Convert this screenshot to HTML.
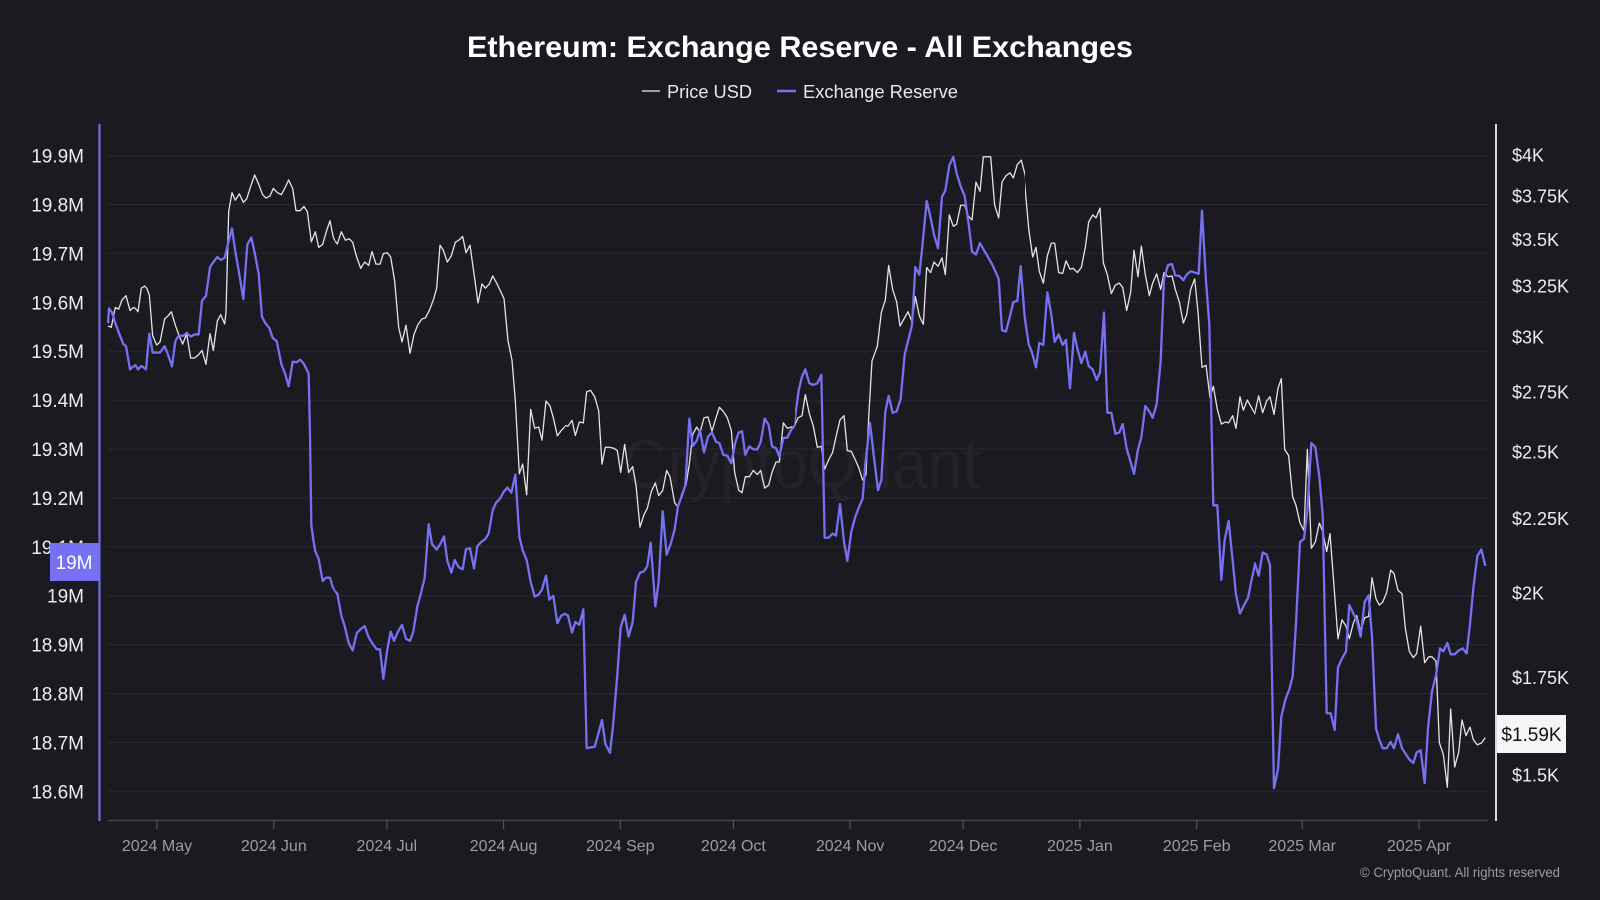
<!DOCTYPE html>
<html><head><meta charset="utf-8"><style>
html,body{margin:0;padding:0;background:#1b1a20;}
svg{display:block}
text{font-family:"Liberation Sans",sans-serif;}
</style></head><body>
<svg width="1600" height="900" viewBox="0 0 1600 900" xmlns="http://www.w3.org/2000/svg">
<defs>
<clipPath id="c7" clipPathUnits="userSpaceOnUse"><rect x="100" y="100" width="235" height="730"/></clipPath>
<clipPath id="c8" clipPathUnits="userSpaceOnUse"><rect x="335" y="100" width="230" height="730"/></clipPath>
<clipPath id="c9" clipPathUnits="userSpaceOnUse"><rect x="565" y="100" width="230" height="730"/></clipPath>
<clipPath id="c10" clipPathUnits="userSpaceOnUse"><rect x="795" y="100" width="230" height="730"/></clipPath>
<clipPath id="c11" clipPathUnits="userSpaceOnUse"><rect x="1025" y="100" width="230" height="730"/></clipPath>
<clipPath id="c12" clipPathUnits="userSpaceOnUse"><rect x="1255" y="100" width="235" height="730"/></clipPath>
</defs>
<rect width="1600" height="900" fill="#1b1a20"/>

<!-- title -->
<text x="800" y="57" text-anchor="middle" font-size="30" font-weight="bold" fill="#ffffff" textLength="666" lengthAdjust="spacingAndGlyphs">Ethereum: Exchange Reserve - All Exchanges</text>

<!-- legend -->
<line x1="642" y1="91" x2="660" y2="91" stroke="#a0a0a0" stroke-width="2"/>
<text x="667" y="98" font-size="18" fill="#e8e8e8" textLength="85" lengthAdjust="spacingAndGlyphs">Price USD</text>
<line x1="777" y1="91" x2="796" y2="91" stroke="#7670f2" stroke-width="2.5"/>
<text x="803" y="98" font-size="18" fill="#e8e8e8" textLength="155" lengthAdjust="spacingAndGlyphs">Exchange Reserve</text>

<!-- watermark -->
<text x="622" y="488" font-size="70" fill="#232229" textLength="358" lengthAdjust="spacingAndGlyphs">CryptoQuant</text>

<!-- gridlines -->
<g stroke="#2a2930" stroke-width="1">
<line x1="108" x2="1488" y1="155.6" y2="155.6"/>
<line x1="108" x2="1488" y1="204.5" y2="204.5"/>
<line x1="108" x2="1488" y1="253.4" y2="253.4"/>
<line x1="108" x2="1488" y1="302.3" y2="302.3"/>
<line x1="108" x2="1488" y1="351.2" y2="351.2"/>
<line x1="108" x2="1488" y1="400.1" y2="400.1"/>
<line x1="108" x2="1488" y1="449" y2="449"/>
<line x1="108" x2="1488" y1="497.9" y2="497.9"/>
<line x1="108" x2="1488" y1="546.8" y2="546.8"/>
<line x1="108" x2="1488" y1="595.7" y2="595.7"/>
<line x1="108" x2="1488" y1="644.6" y2="644.6"/>
<line x1="108" x2="1488" y1="693.5" y2="693.5"/>
<line x1="108" x2="1488" y1="742.4" y2="742.4"/>
<line x1="108" x2="1488" y1="791.3" y2="791.3"/>
</g>

<!-- bottom axis -->
<line x1="108" x2="1488" y1="820.5" y2="820.5" stroke="#45444c" stroke-width="1.5"/>
<g stroke="#55545c" stroke-width="1.2">
<line x1="157" x2="157" y1="820" y2="829"/>
<line x1="273.8" x2="273.8" y1="820" y2="829"/>
<line x1="386.8" x2="386.8" y1="820" y2="829"/>
<line x1="503.6" x2="503.6" y1="820" y2="829"/>
<line x1="620.3" x2="620.3" y1="820" y2="829"/>
<line x1="733.4" x2="733.4" y1="820" y2="829"/>
<line x1="850.1" x2="850.1" y1="820" y2="829"/>
<line x1="963.1" x2="963.1" y1="820" y2="829"/>
<line x1="1079.9" x2="1079.9" y1="820" y2="829"/>
<line x1="1196.7" x2="1196.7" y1="820" y2="829"/>
<line x1="1302.2" x2="1302.2" y1="820" y2="829"/>
<line x1="1419" x2="1419" y1="820" y2="829"/>
</g>
<g font-size="16" fill="#9c9ba3" text-anchor="middle">
<text x="157" y="851">2024 May</text>
<text x="273.8" y="851">2024 Jun</text>
<text x="386.8" y="851">2024 Jul</text>
<text x="503.6" y="851">2024 Aug</text>
<text x="620.3" y="851">2024 Sep</text>
<text x="733.4" y="851">2024 Oct</text>
<text x="850.1" y="851">2024 Nov</text>
<text x="963.1" y="851">2024 Dec</text>
<text x="1079.9" y="851">2025 Jan</text>
<text x="1196.7" y="851">2025 Feb</text>
<text x="1302.2" y="851">2025 Mar</text>
<text x="1419" y="851">2025 Apr</text>
</g>

<!-- left axis labels -->
<g font-size="19" fill="#ececec" text-anchor="end">
<text x="84" y="162.6">19.9M</text>
<text x="84" y="211.5">19.8M</text>
<text x="84" y="260.4">19.7M</text>
<text x="84" y="309.3">19.6M</text>
<text x="84" y="358.2">19.5M</text>
<text x="84" y="407.1">19.4M</text>
<text x="84" y="456">19.3M</text>
<text x="84" y="504.9">19.2M</text>
<text x="84" y="553.8">19.1M</text>
<text x="84" y="602.7">19M</text>
<text x="84" y="651.6">18.9M</text>
<text x="84" y="700.5">18.8M</text>
<text x="84" y="749.4">18.7M</text>
<text x="84" y="798.3">18.6M</text>
</g>

<!-- right axis labels (log scale) -->
<g font-size="18" fill="#ececec">
<text x="1512" y="161.5">$4K</text>
<text x="1512" y="202.3">$3.75K</text>
<text x="1512" y="245.9">$3.5K</text>
<text x="1512" y="292.7">$3.25K</text>
<text x="1512" y="343.3">$3K</text>
<text x="1512" y="398.5">$2.75K</text>
<text x="1512" y="458.5">$2.5K</text>
<text x="1512" y="525.1">$2.25K</text>
<text x="1512" y="599.5">$2K</text>
<text x="1512" y="683.8">$1.75K</text>
<text x="1512" y="781.3">$1.5K</text>
</g>

<!-- Price series (white) -->
<g fill="none" stroke="#e4e4e8" stroke-width="1.3" stroke-linejoin="round">
<g clip-path="url(#c7)"><g transform="translate(100,140) scale(0.333333,0.420875)"><polyline vector-effect="non-scaling-stroke" points="24,442 34,445 40,420 46,398 56,402 66,380 78,370 90,405 100,398 106,400 114,408 124,352 134,347 140,352 148,368 158,465 170,487 180,480 194,425 204,418 214,408 226,440 236,462 248,485 260,460 272,518 284,518 296,510 306,500 318,533 330,460 340,500 352,430 362,415 374,437 378,410 386,170 396,125 406,143 418,128 430,148 440,140 452,110 464,83 476,105 488,130 498,138 510,133 520,115 532,125 544,130 556,112 566,95 578,115 588,168 600,168 612,158 622,170 634,242 646,218 656,255 668,248 680,215 690,192 700,232 710,245 720,235 730,228"/></g></g>
<g clip-path="url(#c8)"><g transform="translate(330,140) scale(0.333333,0.420875)"><polyline vector-effect="non-scaling-stroke" points="0,190 10,235 22,247 34,218 46,238 58,235 68,243 80,278 92,305 104,290 116,298 126,265 138,295 150,295 160,270 172,268 182,278 194,335 206,445 216,480 228,440 240,507 252,462 264,438 276,425 286,423 298,405 310,380 320,352 330,250 340,262 352,290 364,275 376,243 388,237 398,229 408,268 420,250 432,318 444,387 456,342 466,352 478,342 488,323 500,340 512,360 522,377 534,477 546,523 556,620 568,793 578,770 590,843 602,640 614,685 626,682 636,713 648,620 660,632 670,660 682,703 694,690 706,680 716,682 720,678 730,680"/></g></g>
<g clip-path="url(#c9)"><g transform="translate(560,140) scale(0.333333,0.420875)"><polyline vector-effect="non-scaling-stroke" points="0,693 12,678 24,680 36,666 46,702 58,670 70,672 80,598 92,595 104,610 116,643 126,770 136,730 148,730 160,732 172,738 182,790 194,723 206,790 218,776 228,820 240,920 252,890 262,875 274,835 286,815 296,845 308,833 320,785 330,800 344,862 354,872 366,840 378,820 388,770 398,700 410,682 420,695 432,660 444,658 456,692 466,665 478,635 490,645 502,660 514,690 524,790 536,832 546,838 556,800 568,800 580,785 592,795 602,785 614,827 626,820 636,790 648,765 658,765 670,672 682,685 694,682 706,682 716,662 720,665 730,662"/></g></g>
<g clip-path="url(#c10)"><g transform="translate(790,140) scale(0.333333,0.420875)"><polyline vector-effect="non-scaling-stroke" points="0,682 12,682 24,660 36,655 46,605 58,650 70,680 82,730 94,728 104,782 116,760 128,742 138,705 150,665 162,655 172,738 184,740 196,760 206,778 218,808 228,795 236,660 246,525 262,490 274,410 286,380 296,298 308,355 320,385 330,442 342,425 354,408 366,432 376,372 388,418 400,438 410,303 422,315 432,290 444,300 456,280 466,320 478,178 490,205 500,200 512,155 524,155 534,180 546,190 558,100 570,122 580,40 602,40 614,155 626,185 636,100 648,85 660,78 670,90 682,58 694,48 706,85 716,200 720,240 730,260"/></g></g>
<g clip-path="url(#c11)"><g transform="translate(1020,140) scale(0.333333,0.420875)"><polyline vector-effect="non-scaling-stroke" points="0,45 12,85 26,210 38,278 48,255 58,312 70,340 82,275 94,245 104,245 116,315 128,317 138,287 150,307 160,305 172,315 184,303 196,255 206,195 218,178 228,185 240,162 250,292 262,320 274,365 286,345 298,340 308,350 320,405 332,362 342,262 354,325 364,252 376,320 388,370 398,340 410,318 422,355 432,315 444,325 456,323 466,355 478,385 490,435 500,415 512,355 524,330 534,408 546,540 558,535 570,612 580,585 592,640 604,675 616,670 626,672 638,655 648,685 660,610 670,642 682,618 694,635 706,652 716,608 720,615 730,622"/></g></g>
<g clip-path="url(#c12)"><g transform="translate(1250,140) scale(0.333333,0.420875)"><polyline vector-effect="non-scaling-stroke" points="0,625 14,650 26,608 38,648 50,620 60,610 72,652 84,590 94,567 104,735 116,750 128,848 138,868 150,910 162,928 172,735 184,970 196,955 208,910 218,930 230,978 240,935 252,1060 264,1185 276,1140 288,1155 298,1185 310,1148 320,1130 332,1168 344,1135 356,1132 366,1040 378,1090 388,1105 398,1098 410,1075 422,1022 432,1030 444,1070 456,1078 466,1160 478,1215 490,1230 500,1220 512,1155 524,1242 536,1228 546,1228 558,1238 568,1432 580,1460 592,1538 602,1352 614,1490 626,1455 636,1378 648,1415 660,1395 670,1425 682,1437 694,1433 706,1420"/></g></g>
</g>

<!-- Exchange Reserve series (purple) -->
<g fill="none" stroke="#7670f2" stroke-width="2.3" stroke-linejoin="round">
<g clip-path="url(#c7)"><g transform="translate(100,140) scale(0.333333,0.420875)"><polyline vector-effect="non-scaling-stroke" points="24,435 27,400 36,410 48,440 60,465 70,485 78,490 90,545 100,538 106,535 114,545 124,537 130,540 138,545 148,460 158,505 170,505 180,505 194,490 204,510 216,538 226,478 236,465 250,465 260,458 272,467 284,462 296,462 306,382 318,370 330,302 340,290 352,278 362,285 374,280 386,240 396,210 406,265 416,310 430,378 442,248 454,232 464,268 476,318 486,420 496,435 508,447 518,470 530,478 544,532 556,557 566,585 578,527 590,528 600,522 610,530 620,545 626,555 630,700 634,915 640,950 646,978 656,995 668,1048 678,1040 690,1040 698,1062 706,1072 714,1082 720,1110 730,1130"/></g></g>
<g clip-path="url(#c8)"><g transform="translate(330,140) scale(0.333333,0.420875)"><polyline vector-effect="non-scaling-stroke" points="0,1038 10,1068 22,1078 34,1130 44,1155 56,1195 68,1213 80,1172 92,1162 104,1155 116,1182 128,1197 140,1210 150,1210 160,1280 172,1210 182,1168 192,1190 204,1168 216,1152 228,1185 240,1190 250,1168 262,1108 272,1080 284,1040 296,913 306,960 320,973 332,958 342,942 352,1000 364,1028 374,998 386,1015 398,1020 408,972 420,970 432,1018 442,965 454,955 466,948 476,935 488,880 498,862 510,852 522,835 532,826 544,838 556,795 568,942 578,975 590,998 602,1050 614,1085 626,1080 636,1068 648,1035 658,1092 670,1083 682,1148 694,1130 706,1125 716,1132 720,1155 730,1140"/></g></g>
<g clip-path="url(#c9)"><g transform="translate(560,140) scale(0.333333,0.420875)"><polyline vector-effect="non-scaling-stroke" points="0,1135 12,1125 24,1130 36,1170 46,1145 58,1152 70,1115 80,1445 92,1443 104,1442 116,1408 126,1378 136,1435 150,1456 160,1385 172,1270 182,1158 194,1128 206,1180 218,1145 228,1050 240,1028 252,1025 262,1012 272,957 286,1108 296,1050 308,882 320,985 332,960 344,925 354,870 366,845 376,820 388,662 398,727 410,715 420,690 432,742 444,705 456,695 468,717 478,720 490,748 502,750 514,768 526,718 536,695 546,692 556,748 568,728 580,735 592,735 602,718 614,662 626,677 636,728 648,732 658,752 670,708 682,707 694,688 706,678 716,592 720,575 730,560"/></g></g>
<g clip-path="url(#c10)"><g transform="translate(790,140) scale(0.333333,0.420875)"><polyline vector-effect="non-scaling-stroke" points="0,690 12,678 26,595 36,562 46,545 58,578 70,582 82,578 94,558 104,945 116,945 128,935 138,940 150,865 162,955 172,1000 184,930 196,895 208,870 218,852 226,770 240,672 252,755 264,832 274,808 286,645 296,608 308,648 320,645 332,615 344,510 354,478 366,440 376,302 388,320 398,245 410,145 420,178 432,225 444,257 456,135 466,120 478,60 490,40 500,80 512,110 524,133 536,200 546,265 558,272 570,245 582,262 594,278 606,295 616,312 626,330 636,452 648,455 660,418 670,385 682,382 692,300 704,420 716,490 720,495 730,505"/></g></g>
<g clip-path="url(#c11)"><g transform="translate(1020,140) scale(0.333333,0.420875)"><polyline vector-effect="non-scaling-stroke" points="0,300 14,420 26,485 36,505 48,540 58,482 70,487 82,362 94,415 104,480 116,462 128,487 138,475 150,590 162,458 172,495 184,530 196,503 206,537 218,545 230,570 240,552 252,410 262,648 274,648 286,698 298,695 308,675 320,733 330,760 342,793 354,735 364,707 376,632 388,645 398,660 410,627 422,525 432,330 444,297 456,295 466,322 478,323 490,333 500,320 512,312 524,315 536,318 546,168 558,335 568,440 580,868 592,868 604,1045 614,950 626,905 638,1000 648,1080 660,1125 672,1105 684,1088 694,1048 706,1005 716,1035 720,1030 730,1040"/></g></g>
<g clip-path="url(#c12)"><g transform="translate(1250,140) scale(0.333333,0.420875)"><polyline vector-effect="non-scaling-stroke" points="0,1070 14,1005 26,1035 38,980 50,985 60,1010 72,1540 84,1495 94,1370 106,1330 118,1305 128,1275 138,1150 150,955 162,948 172,880 184,720 196,730 208,800 218,890 230,1362 242,1362 254,1402 264,1253 276,1232 288,1215 298,1105 310,1125 320,1140 332,1180 344,1097 356,1082 366,1180 378,1398 388,1425 398,1445 410,1445 422,1430 432,1445 444,1412 456,1445 468,1460 478,1472 490,1480 500,1455 512,1450 524,1528 534,1398 546,1310 558,1272 570,1208 580,1215 592,1195 602,1222 614,1222 626,1213 638,1208 650,1220 660,1150 670,1065 682,988 694,973 706,1012"/></g></g>
</g>

<!-- left axis line and current value box -->
<line x1="99.5" x2="99.5" y1="124" y2="821" stroke="#7670f2" stroke-width="2"/>
<rect x="50" y="543" width="50" height="38" fill="#7670f2"/>
<text x="74" y="569" text-anchor="middle" font-size="19" fill="#ffffff">19M</text>

<!-- right axis line and current value box -->
<line x1="1496" x2="1496" y1="124" y2="821" stroke="#dcdcdc" stroke-width="2"/>
<rect x="1497" y="715" width="69" height="38" fill="#f5f5f7"/>
<text x="1531.5" y="741" text-anchor="middle" font-size="19" fill="#111114">$1.59K</text>

<!-- copyright -->
<text x="1560" y="877" text-anchor="end" font-size="14" fill="#9c9ba3" textLength="200" lengthAdjust="spacingAndGlyphs">© CryptoQuant. All rights reserved</text>
</svg>
</body></html>
